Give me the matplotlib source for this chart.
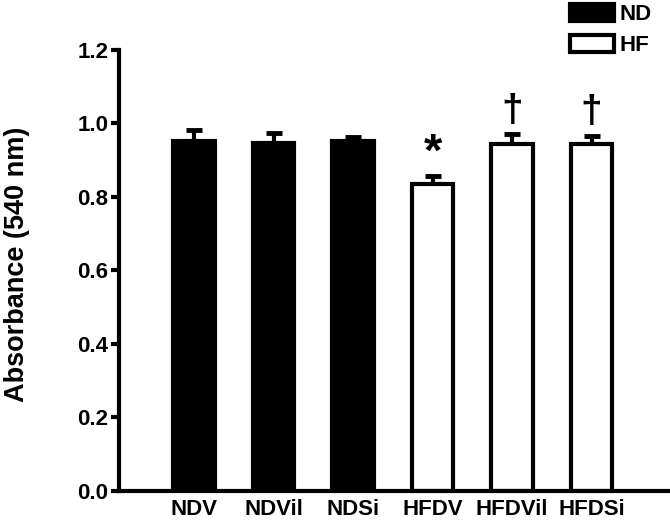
import numpy as np
import matplotlib
matplotlib.use('Agg')
import matplotlib.pyplot as plt
from matplotlib.patches import Patch

plt.rcParams['font.family'] = ['Liberation Sans', 'DejaVu Sans']
plt.rcParams['font.weight'] = 'bold'

# data
groups = ['NDV', 'NDVil', 'NDSi', 'HFDV', 'HFDVil', 'HFDSi']
means = [0.950, 0.945, 0.952, 0.834, 0.943, 0.944]
sems = [0.031, 0.029, 0.010, 0.023, 0.027, 0.021]
diet = ['ND', 'ND', 'ND', 'HF', 'HF', 'HF']
marks = ['', '', '', '*', '\u2020', '\u2020']
yticks = [0.0, 0.2, 0.4, 0.6, 0.8, 1.0, 1.2]

fill = {'ND': 'black', 'HF': 'white'}

fig = plt.figure(figsize=(6.7, 5.2), dpi=100)
ax = fig.add_axes([0.178, 0.0558, 0.819, 0.849])

x = np.arange(len(groups))
colors = [fill[d] for d in diet]
ax.bar(x, means, width=0.52, color=colors, edgecolor='black', linewidth=3, zorder=2)
ax.errorbar(x, means, yerr=[np.zeros(len(sems)), sems], fmt='none', ecolor='black',
            elinewidth=3, capsize=5.5, capthick=3.5, zorder=1)

for xi, m, s, t in zip(x, means, sems, marks):
    if t == '*':
        ax.text(xi, m + s + 0.0, t, ha='center', va='bottom', fontsize=34, fontweight='bold')
    elif t:
        ax.text(xi, m + s + 0.015, t, ha='center', va='bottom', fontsize=28, fontweight='bold')

ax.set_xlim(-0.94, 5.96)
ax.set_ylim(0, 1.2)
ax.set_yticks(yticks)
ax.set_yticklabels([f'{v:.1f}' for v in yticks], fontsize=16, fontweight='bold')
ax.set_xticks(x)
ax.set_xticklabels(groups, fontsize=16, fontweight='bold')
ax.tick_params(axis='x', length=0, pad=6)
ax.tick_params(axis='y', length=6, width=3, pad=2)
fig.text(17 / 670, 0.492, 'Absorbance (540 nm)', rotation=90, ha='center', va='center',
         fontsize=19.5, fontweight='bold')

for side in ['top', 'right']:
    ax.spines[side].set_visible(False)
for side in ['left', 'bottom']:
    ax.spines[side].set_linewidth(3)

handles = [Patch(facecolor='black', edgecolor='black', linewidth=3, label='ND'),
           Patch(facecolor='white', edgecolor='black', linewidth=3, label='HF')]
leg = fig.legend(handles=handles, loc='upper left', bbox_to_anchor=(0.848, 0.997),
                 frameon=False, prop={'weight': 'bold', 'size': 16},
                 handlelength=1.95, handleheight=0.8, handletextpad=0.25,
                 labelspacing=0.45, borderaxespad=0, borderpad=0.1)

fig.savefig('out.png', dpi=100)
